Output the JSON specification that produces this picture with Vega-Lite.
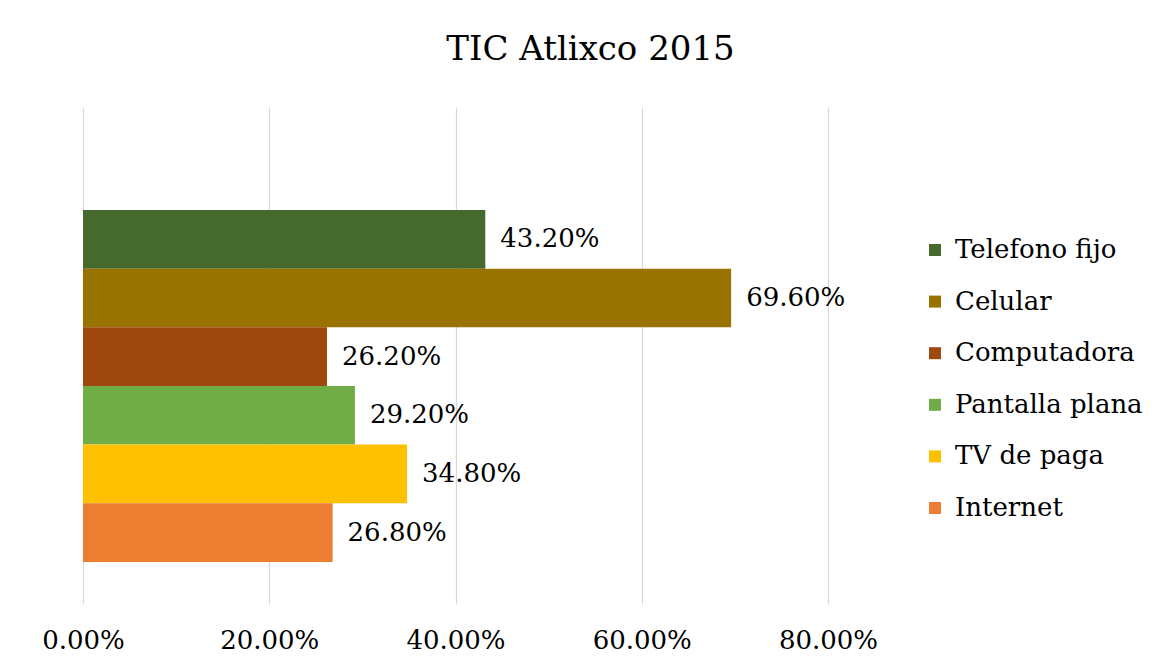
{
  "$schema": "https://vega.github.io/schema/vega-lite/v6.json",
  "autosize": {"type": "none"},
  "padding": {"left": 83, "top": 107, "right": 339, "bottom": 66},
  "width": 745,
  "height": 497,
  "background": "white",
  "title": {
    "text": "TIC Atlixco 2015",
    "anchor": "middle",
    "dx": 135,
    "offset": 40,
    "font": "DejaVu Serif",
    "fontSize": 34,
    "fontWeight": "normal",
    "color": "#000000"
  },
  "data": {
    "values": [
      {"cat": "Telefono fijo", "value": 0.432},
      {"cat": "Celular", "value": 0.696},
      {"cat": "Computadora", "value": 0.262},
      {"cat": "Pantalla plana", "value": 0.292},
      {"cat": "TV de paga", "value": 0.348},
      {"cat": "Internet", "value": 0.268}
    ]
  },
  "encoding": {
    "y": {
      "datum": "Atlixco",
      "type": "nominal",
      "scale": {"paddingInner": 0, "paddingOuter": 0.206, "align": 0.71},
      "axis": null
    },
    "yOffset": {
      "field": "cat",
      "type": "nominal",
      "sort": ["Telefono fijo", "Celular", "Computadora", "Pantalla plana", "TV de paga", "Internet"],
      "scale": {"paddingInner": 0, "paddingOuter": 0}
    },
    "x": {
      "field": "value",
      "type": "quantitative",
      "scale": {"domain": [0, 0.8], "nice": false},
      "axis": {
        "title": null,
        "values": [0, 0.2, 0.4, 0.6, 0.8],
        "format": ".2%",
        "domain": false,
        "ticks": false,
        "grid": true,
        "gridColor": "#d9d9d9",
        "gridWidth": 1.2,
        "labelFont": "DejaVu Serif",
        "labelFontSize": 26,
        "labelColor": "#000000",
        "labelPadding": 23,
        "labelFlush": false
      }
    }
  },
  "layer": [
    {
      "mark": {"type": "bar"},
      "encoding": {
        "color": {
          "field": "cat",
          "type": "nominal",
          "scale": {
            "domain": ["Telefono fijo", "Celular", "Computadora", "Pantalla plana", "TV de paga", "Internet"],
            "range": ["#46692E", "#997300", "#9E480E", "#70AD47", "#FFC000", "#ED7D31"]
          },
          "legend": {
            "title": null,
            "orient": "none",
            "legendX": 839,
            "legendY": 130,
            "symbolType": "square",
            "symbolSize": 144,
            "symbolStrokeWidth": 0,
            "symbolOpacity": 1,
            "labelFont": "DejaVu Serif",
            "labelFontSize": 26,
            "labelColor": "#000000",
            "labelOffset": 7,
            "rowPadding": 25.6,
            "labelLimit": 300
          }
        }
      }
    },
    {
      "mark": {
        "type": "text",
        "align": "left",
        "baseline": "middle",
        "dx": 15,
        "font": "DejaVu Serif",
        "fontSize": 26,
        "color": "#000000"
      },
      "encoding": {
        "text": {"field": "value", "type": "quantitative", "format": ".2%"}
      }
    }
  ],
  "config": {"view": {"stroke": null}}
}
